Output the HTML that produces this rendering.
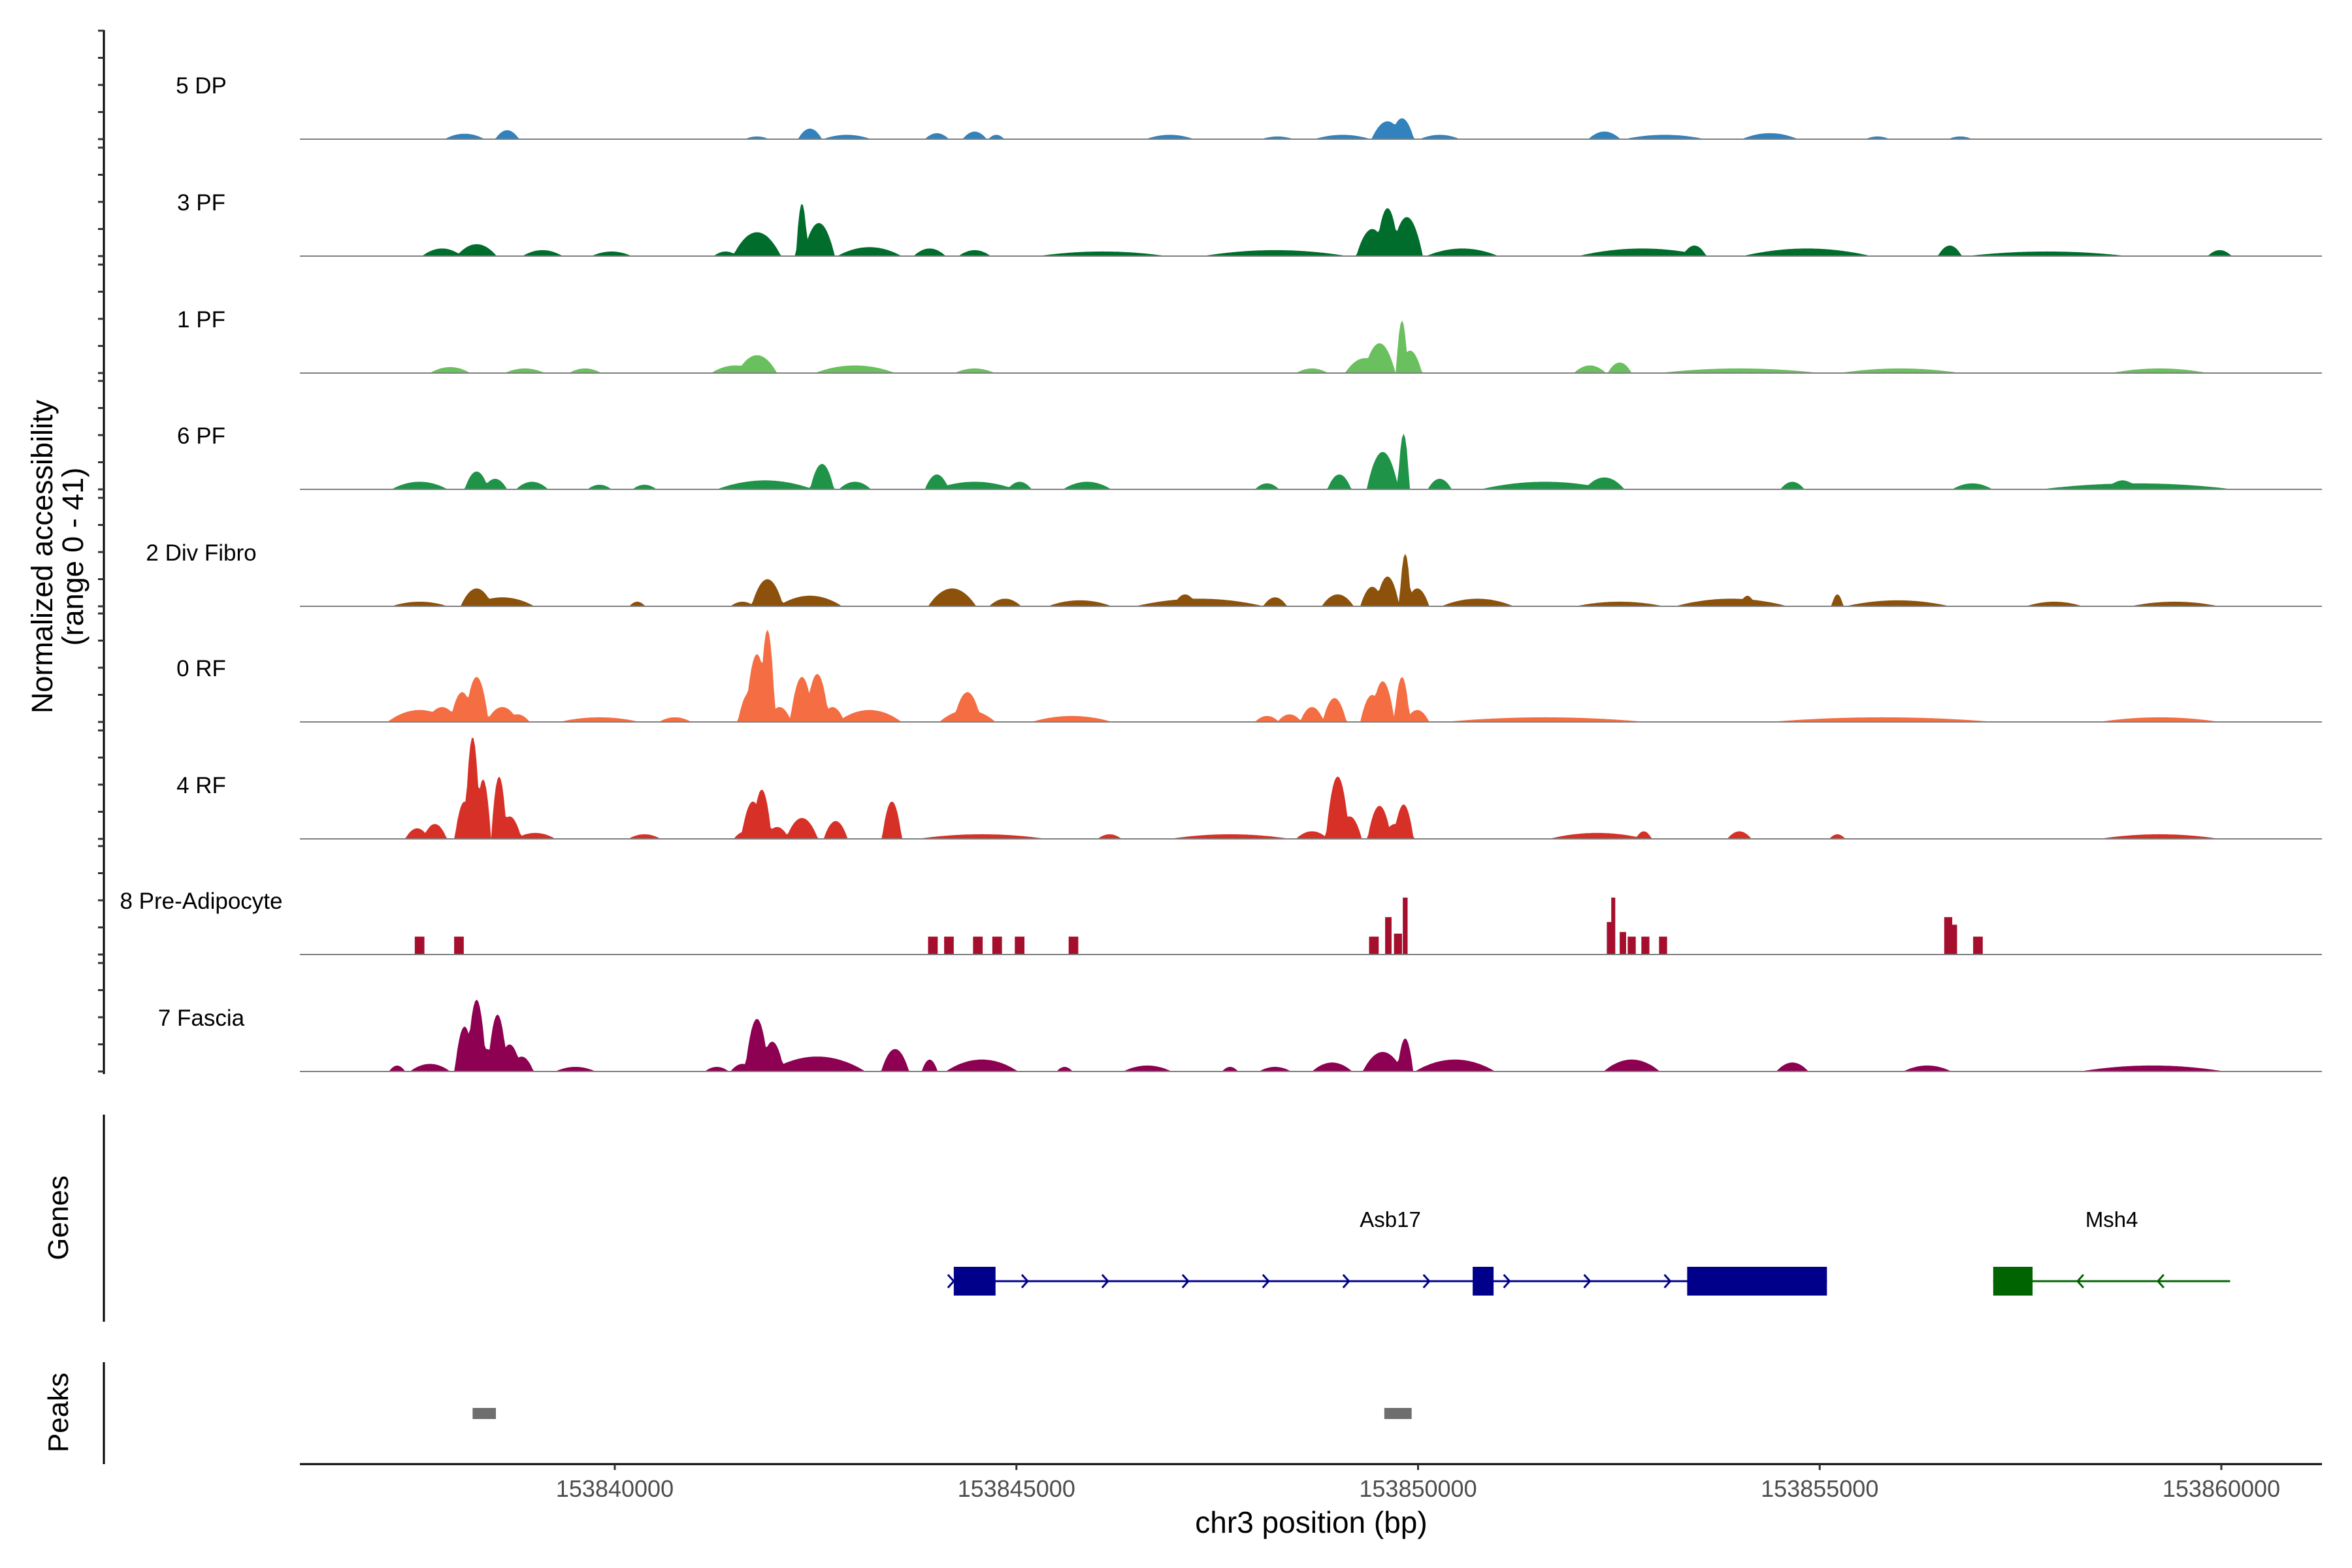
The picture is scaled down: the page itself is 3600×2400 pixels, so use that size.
<!DOCTYPE html>
<html><head><meta charset="utf-8"><style>
html,body{margin:0;padding:0;background:#fff;}
svg{display:block;font-family:"Liberation Sans",Arial,sans-serif;}
</style></head><body>
<svg id="chart" width="3600" height="2400" viewBox="0 0 3600 2400" xmlns="http://www.w3.org/2000/svg">
<rect width="3600" height="2400" fill="#fff"/>
<g id="tracks"></g>
<g id="yaxis"></g>
<text transform="translate(80,852) rotate(-90)" text-anchor="middle" font-size="45" fill="#000">Normalized accessibility</text>
<text transform="translate(127,852) rotate(-90)" text-anchor="middle" font-size="45" fill="#000">(range 0 - 41)</text>
<g id="genes"></g>
<g id="peaks"></g>
<g id="xaxis"></g>
<text x="2007" y="2346" text-anchor="middle" font-size="46" fill="#000">chr3 position (bp)</text>
</svg>
<script>
// positions in kb offset from 153840000; values in normalized units; widths in kb
const trackNames = ["5 DP","3 PF","1 PF","6 PF","2 Div Fibro","0 RF","4 RF","8 Pre-Adipocyte","7 Fascia"];
const trackColors = ["#3182bd","#006d2c","#6abf5f","#1f9448","#8c510a","#f46d43","#d73027","#a50f2d","#8e0152"];
const peaks5DP = [[-1.87,2,0.5],[-1.34,3.3,0.3],[1.77,1,0.3],[2.43,3.9,0.3],[2.89,1.6,0.6],[4.01,2.2,0.3],[4.48,2.8,0.3],[4.75,1.6,0.2],[6.91,1.6,0.6],[8.25,1,0.4],[9.06,1.6,0.7],[9.62,6.6,0.4],[9.80,7.7,0.3],[10.27,1.6,0.5],[12.32,2.8,0.4],[13.07,1.6,1.0],[14.38,2.2,0.7],[15.72,1,0.3],[16.75,1,0.3]];
const peaks3PF = [[-2.15,2.8,0.5],[-1.72,4.4,0.5],[-0.9,2.2,0.5],[-0.04,1.7,0.5],[1.38,1.7,0.3],[1.77,8.8,0.6],[2.33,19.4,0.15],[2.54,12.2,0.4],[3.17,3.3,0.8],[3.92,2.8,0.4],[4.48,2.2,0.4],[6.07,1.7,1.6],[8.22,2.2,1.8],[9.43,10,0.4],[9.62,17.7,0.3],[9.86,14.4,0.4],[10.55,2.8,0.9],[12.79,2.8,1.6],[13.44,3.9,0.3],[14.84,2.8,1.6],[16.62,3.9,0.3],[17.83,1.7,2],[19.98,2.2,0.3]];
const peaks1PF = [[-2.05,2.2,0.5],[-1.12,1.7,0.5],[-0.37,1.7,0.4],[1.5,2.8,0.6],[1.77,6.6,0.5],[2.99,2.8,1.0],[4.48,1.7,0.5],[8.68,1.7,0.4],[9.34,5.5,0.5],[9.52,11,0.4],[9.80,19.4,0.15],[9.90,8.3,0.3],[12.14,2.8,0.4],[12.51,3.9,0.3],[14.0,1.7,2.0],[16.0,1.7,1.5],[19.23,1.7,1.2]];
const peaks6PF = [[-2.43,2.8,0.7],[-1.72,6.6,0.3],[-1.49,3.9,0.3],[-1.03,2.8,0.4],[-0.19,1.7,0.3],[0.37,1.7,0.3],[1.87,3.3,1.2],[2.58,9.4,0.3],[2.99,2.8,0.4],[4.01,5.5,0.3],[4.48,2.8,1],[5.04,2.8,0.3],[5.88,2.8,0.6],[8.12,2.2,0.3],[9.02,5.5,0.3],[9.56,13.8,0.4],[9.82,20.5,0.15],[10.27,3.9,0.3],[11.58,2.8,1.6],[12.32,4.4,0.5],[14.66,2.8,0.3],[16.9,2.2,0.5],[18.95,2.2,2.4],[18.77,3.3,0.4]];
const peaks2DivFibro = [[-2.43,1.7,0.7],[-1.72,6.6,0.4],[-1.40,3.3,0.8],[0.28,1.7,0.2],[1.59,1.7,0.3],[1.90,10,0.4],[2.43,3.9,0.8],[4.20,6.6,0.6],[4.86,2.8,0.4],[5.79,2.2,0.8],[7.28,2.8,1.6],[7.10,4.4,0.3],[8.22,3.3,0.3],[9.0,4.4,0.4],[9.43,7.2,0.3],[9.62,11,0.3],[9.84,19.4,0.15],[9.99,6.6,0.3],[10.74,2.8,0.9],[12.51,1.7,1.1],[13.9,2.8,1.4],[14.1,3.9,0.2],[15.22,4.4,0.15],[15.97,2.2,1.3],[17.92,1.7,0.7],[19.42,1.7,1.1]];
const peaks0RF = [[-2.43,4.4,0.8],[-2.15,5.5,0.4],[-1.9,11,0.3],[-1.72,16.6,0.3],[-1.40,5.5,0.4],[-1.21,2.8,0.3],[-0.19,1.7,1],[0.75,1.7,0.4],[1.68,11,0.3],[1.77,25,0.3],[1.90,34,0.2],[2.05,5.5,0.3],[2.33,16.6,0.3],[2.52,17.7,0.3],[2.71,5.5,0.3],[3.17,4.4,0.8],[4.39,11,0.35],[4.39,4.4,0.7],[5.69,2.2,1],[8.12,2.2,0.3],[8.40,2.8,0.3],[8.68,5.5,0.3],[8.96,8.8,0.3],[9.43,10,0.3],[9.56,15,0.3],[9.80,16.6,0.2],[9.99,4.4,0.3],[11.58,1.7,2.5],[15.78,1.7,2.8],[19.23,1.7,1.5]];
const peaks4RF = [[-2.46,3.9,0.3],[-2.24,5.5,0.3],[-1.87,13.8,0.25],[-1.77,37.6,0.2],[-1.64,22,0.2],[-1.44,23,0.2],[-1.31,8.3,0.3],[-0.99,2.2,0.5],[0.37,1.7,0.4],[1.63,2.8,0.3],[1.72,13.8,0.3],[1.83,18.2,0.25],[2.02,4.4,0.3],[2.33,7.7,0.4],[2.75,6.6,0.3],[3.45,13.8,0.25],[4.57,1.7,1.6],[6.16,1.7,0.3],[7.66,1.7,1.5],[8.68,2.8,0.4],[9.00,23,0.3],[9.15,8.3,0.3],[9.52,12.2,0.3],[9.71,5.5,0.3],[9.82,12.7,0.25],[12.23,2.2,1.2],[12.81,2.8,0.2],[14.0,2.8,0.3],[15.22,1.7,0.2],[19.23,1.7,1.5]];
const peaks8PreAdipocyte = [[-2.43,6.6,0.12],[-1.94,6.6,0.12],[3.96,6.6,0.12],[4.16,6.6,0.12],[4.52,6.6,0.12],[4.76,6.6,0.12],[5.04,6.6,0.12],[5.71,6.6,0.12],[9.45,6.6,0.12],[9.63,13.8,0.08],[9.75,7.7,0.1],[9.84,21,0.06],[12.40,12,0.1],[12.43,21,0.05],[12.55,8.3,0.08],[12.66,6.6,0.1],[12.83,6.6,0.1],[13.05,6.6,0.1],[16.60,13.8,0.1],[16.66,11,0.1],[16.97,6.6,0.12]];
const peaks7Fascia = [[-2.71,2.2,0.2],[-2.3,2.8,0.5],[-1.87,16.6,0.25],[-1.72,26.5,0.25],[-1.59,8.3,0.3],[-1.46,21,0.25],[-1.31,10,0.3],[-1.16,5.5,0.3],[-0.49,1.7,0.5],[1.27,1.7,0.3],[1.59,2.8,0.3],[1.77,19.4,0.3],[1.96,11,0.3],[2.52,5.5,1.2],[3.49,8.3,0.35],[3.92,4.4,0.2],[4.57,4.4,0.9],[5.60,1.7,0.2],[6.63,2.2,0.6],[7.66,1.7,0.2],[8.22,1.7,0.4],[8.93,3.3,0.5],[9.56,7.2,0.5],[9.84,12.2,0.2],[10.46,4.4,1.0],[12.66,4.4,0.7],[14.66,3.3,0.4],[16.34,2.2,0.6],[19.14,2.2,1.8]];
const trackPeaks = [peaks5DP,peaks3PF,peaks1PF,peaks6PF,peaks2DivFibro,peaks0RF,peaks4RF,peaks8PreAdipocyte,peaks7Fascia];
const blockTracks = [false,false,false,false,false,false,false,true,false];
const xTicks = [0,5,10,15,20];
const xTickLabels = ["153840000","153845000","153850000","153855000","153860000"];
const yTicks = [0,10,20,30,40];
const geneNames = ["Asb17","Msh4"];
const geneStarts = [4.22,17.16];
const geneEnds = [15.09,20.11];
const geneStrands = [1,-1];
const geneColors = ["#00008b","#006400"];
const geneExons = [[[4.22,4.74],[10.68,10.94],[13.35,15.09]],[[17.16,17.65]]];
const peakStarts = [-1.77,9.58];
const peakEnds = [-1.48,9.92];

const NS="http://www.w3.org/2000/svg";
const X0=941, PXKB=122.95;
function xs(kb){return X0+kb*PXKB;}
const baselines=[213,392,571,749,928,1105,1284,1461,1640];
const YU=4.15;
function ys(i,v){return baselines[i]-v*YU;}
function mk(tag,attrs,parent){const e=document.createElementNS(NS,tag);for(const k in attrs)e.setAttribute(k,attrs[k]);parent.appendChild(e);return e;}

const gT=document.getElementById('tracks');
const kbMin=-3.92, kbMax=21.25, step=0.02;
trackPeaks.forEach((pk,i)=>{
  const g=mk('g',{},gT);
  
  
  const lab=mk('text',{x:308,y:baselines[i]-70,'text-anchor':'middle','font-size':35,fill:'#000'},g);
  
  
  lab.textContent=trackNames[i];
  let d='';
  if(blockTracks[i]){
    pk.forEach(p=>{const x1=xs(p[0]-p[2]/2),x2=xs(p[0]+p[2]/2);d+=`M${x1},${baselines[i]}V${ys(i,p[1])}H${x2}V${baselines[i]}Z`;});
  } else {
    const n=Math.round((kbMax-kbMin)/step);
    let pts=[];
    for(let k=0;k<=n;k++){
      const kb=kbMin+k*step;let v=0;
      pk.forEach(p=>{const u=Math.abs(kb-p[0])/(p[2]/2);if(u<1)v=Math.max(v,p[1]*(1-u*u));});
      pts.push(`${xs(kb).toFixed(1)},${ys(i,v).toFixed(1)}`);
    }
    d=`M${xs(kbMin)},${baselines[i]}L`+pts.join('L')+`L${xs(kbMax)},${baselines[i]}Z`;
  }
  const a=mk('path',{d:d,fill:trackColors[i]},g);
  
  
  const bl=mk('line',{x1:459,x2:3554,y1:baselines[i],y2:baselines[i],stroke:'#7f7f7f','stroke-width':2},g);
  
  
});

const gY=document.getElementById('yaxis');
const yl=mk('line',{x1:159,x2:159,y1:46,y2:1644,stroke:'#000','stroke-width':3},gY);


baselines.forEach((b,i)=>{yTicks.forEach(t=>{
  const tk=mk('line',{x1:150,x2:159,y1:ys(i,t),y2:ys(i,t),stroke:'#333','stroke-width':3},gY);
  
  
});});

const gG=document.getElementById('genes');
const glin=mk('line',{x1:159,x2:159,y1:1706,y2:2023,stroke:'#000','stroke-width':3},gG);


const gl=mk('text',{transform:'translate(104,1864) rotate(-90)','text-anchor':'middle','font-size':44,fill:'#000'},gG);


gl.textContent='Genes';
const GY=1961;
geneNames.forEach((nm,j)=>{
  const g=mk('g',{},gG);
  
  
  const c=geneColors[j];
  const ln=mk('line',{x1:xs(geneStarts[j]),x2:xs(geneEnds[j]),y1:GY,y2:GY,stroke:c,'stroke-width':3},g);
  
  
  const kbs=[];
  if(geneStrands[j]>0){kbs.push(geneStarts[j]);for(let kb=geneStarts[j]+0.92;kb<geneEnds[j];kb+=1.0)kbs.push(kb);}
  else{for(let kb=geneStarts[j]+1.05;kb<geneEnds[j]-0.3;kb+=1.0)kbs.push(kb);}
  kbs.forEach(kb=>{
    const x=xs(kb), s=geneStrands[j]*9;
    const ch=mk('path',{d:`M${x-s},${GY-10}L${x},${GY}L${x-s},${GY+10}`,fill:'none',stroke:c,'stroke-width':3},g);
    
    
  });
  geneExons[j].forEach(e=>{
    const r=mk('rect',{x:xs(e[0]),y:GY-22,width:xs(e[1])-xs(e[0]),height:44,fill:c},g);
    
    
  });
  const t=mk('text',{x:xs((geneStarts[j]+geneEnds[j])/2),y:1878,'text-anchor':'middle','font-size':33,fill:'#000'},g);
  
  
  t.textContent=nm;
});

const gP=document.getElementById('peaks');
const plin=mk('line',{x1:159,x2:159,y1:2085,y2:2241,stroke:'#000','stroke-width':3},gP);


const pl=mk('text',{transform:'translate(104,2162) rotate(-90)','text-anchor':'middle','font-size':44,fill:'#000'},gP);


pl.textContent='Peaks';
peakStarts.forEach((s,j)=>{
  const r=mk('rect',{x:xs(s),y:2155,width:xs(peakEnds[j])-xs(s),height:17,fill:'#6e6e6e'},gP);
  
  
});

const gX=document.getElementById('xaxis');
const xl=mk('line',{x1:459,x2:3554,y1:2241,y2:2241,stroke:'#000','stroke-width':3},gX);


xTicks.forEach((t,k)=>{
  const tk=mk('line',{x1:xs(t),x2:xs(t),y1:2241,y2:2250,stroke:'#333','stroke-width':3},gX);
  
  
  const tl=mk('text',{x:xs(t),y:2291,'text-anchor':'middle','font-size':36,fill:'#4d4d4d'},gX);
  
  
  tl.textContent=xTickLabels[k];
});
</script>
</body></html>
